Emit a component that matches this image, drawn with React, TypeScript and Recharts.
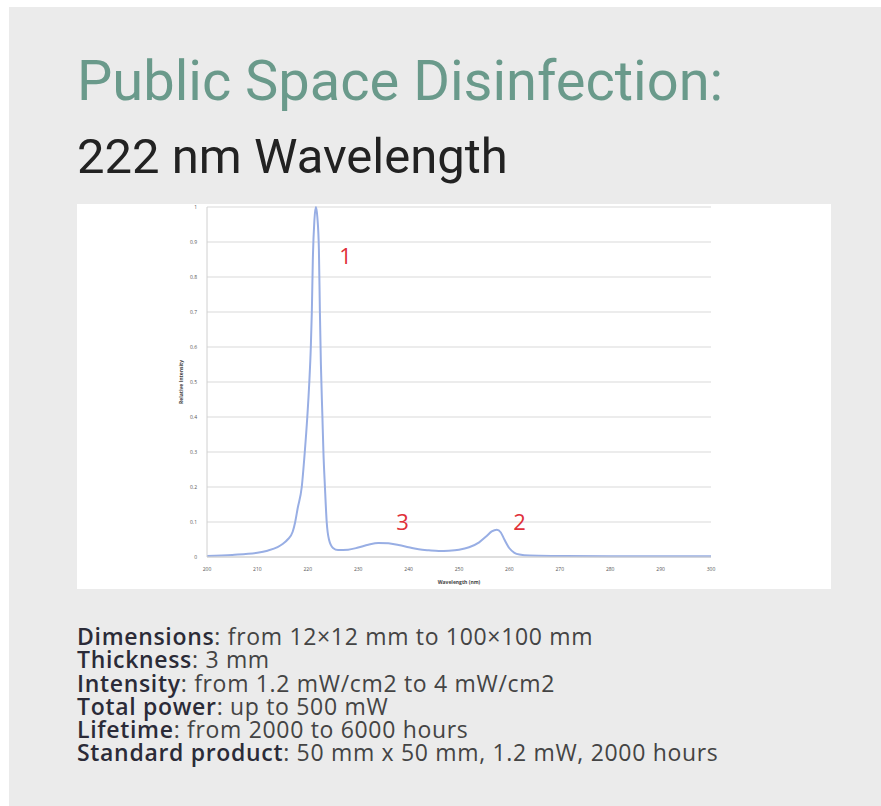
import React from 'react';
import {
  LineChart,
  Line,
  XAxis,
  YAxis,
  CartesianGrid,
  Label,
  ReferenceDot,
} from 'recharts';

// spectrum (wavelength nm -> relative intensity)
const wavelengths = [
  200, 205, 210, 212, 214, 215, 216, 217, 217.5, 218, 218.8, 219.4, 219.9, 220.3, 220.6,
  220.8, 221, 221.3, 221.6, 221.9, 222.2, 222.4, 222.6, 222.9, 223.1, 223.4, 223.75, 224.2,
  225, 226, 228, 230, 232, 234, 236, 238, 240, 242, 244, 246, 248, 250, 252, 254, 255.5,
  256.5, 257.5, 258.3, 259, 260, 261, 262, 264, 270, 280, 290, 300,
];
const intensity = [
  0.003, 0.006, 0.012, 0.018, 0.028, 0.037, 0.05, 0.072, 0.1, 0.14, 0.2, 0.3, 0.4, 0.5, 0.6,
  0.7, 0.85, 0.96, 1.0, 0.97, 0.88, 0.7, 0.55, 0.4, 0.3, 0.2, 0.1, 0.05,
  0.026, 0.02, 0.021, 0.027, 0.035, 0.04, 0.039, 0.034, 0.028, 0.022, 0.019, 0.017, 0.018,
  0.021, 0.028, 0.042, 0.06, 0.073, 0.078, 0.07, 0.05, 0.025, 0.012, 0.007, 0.004, 0.003,
  0.002, 0.002, 0.002,
];

const xTicks = [200, 210, 220, 230, 240, 250, 260, 270, 280, 290, 300];
const yTicks = [0, 0.1, 0.2, 0.3, 0.4, 0.5, 0.6, 0.7, 0.8, 0.9, 1];

// peak annotations: [label, x, y]
const peakLabels: [string, number, number][] = [
  ['1', 227.5, 0.86],
  ['3', 238.8, 0.1],
  ['2', 262, 0.1],
];

const specs: [string, string][] = [
  ['Dimensions', 'from 12×12 mm to 100×100 mm'],
  ['Thickness', '3 mm'],
  ['Intensity', 'from 1.2 mW/cm2 to 4 mW/cm2'],
  ['Total power', 'up to 500 mW'],
  ['Lifetime', 'from 2000 to 6000 hours'],
  ['Standard product', '50 mm x 50 mm, 1.2 mW, 2000 hours'],
];

const data = wavelengths.map((w, i) => ({ w, v: intensity[i] }));

const tickStyle = { fontSize: 5, fill: '#555', fontFamily: 'Open Sans' };

export default function App() {
  return (
    <div
      style={{
        position: 'absolute',
        left: 9,
        top: 7,
        width: 872,
        height: 799,
        background: '#ebebeb',
        fontFamily: 'Roboto',
      }}
    >
      <div
        style={{
          position: 'absolute',
          left: 68,
          top: 46,
          fontSize: 56,
          color: '#6a9a8b',
          whiteSpace: 'nowrap',
          lineHeight: 1,
        }}
      >
        Public Space Disinfection:
      </div>
      <div
        style={{
          position: 'absolute',
          left: 68,
          top: 125,
          fontSize: 49,
          color: '#222',
          whiteSpace: 'nowrap',
          lineHeight: 1,
        }}
      >
        222 nm Wavelength
      </div>
      <div style={{ position: 'absolute', left: 68, top: 197, background: '#fff' }}>
        <LineChart
          width={754}
          height={385}
          data={data}
          margin={{ top: 3, right: 120, bottom: 0, left: 100 }}
        >
          <CartesianGrid vertical={false} stroke="#d9d9d9" />
          <XAxis
            dataKey="w"
            type="number"
            domain={[200, 300]}
            ticks={xTicks}
            tick={tickStyle}
            tickLine={false}
            axisLine={{ stroke: '#d0d0d0' }}
            height={32}
            tickMargin={4}
          >
            <Label
              value="Wavelength (nm)"
              position="insideBottom"
              offset={5}
              style={{ fontSize: 5, fontWeight: 700, fill: '#444', fontFamily: 'Open Sans' }}
            />
          </XAxis>
          <YAxis
            type="number"
            domain={[0, 1]}
            ticks={yTicks}
            tick={tickStyle}
            tickLine={false}
            axisLine={{ stroke: '#d0d0d0' }}
            width={30}
            tickMargin={4}
          >
            <Label
              value="Relative Intensity"
              angle={-90}
              position="insideLeft"
              offset={4}
              style={{
                fontSize: 5,
                fontWeight: 700,
                fill: '#444',
                fontFamily: 'Open Sans',
                textAnchor: 'middle',
              }}
            />
          </YAxis>
          <Line
            type="monotone"
            dataKey="v"
            stroke="#98aee4"
            strokeWidth={2}
            dot={false}
            isAnimationActive={false}
          />
          {peakLabels.map(([t, x, y]) => (
            <ReferenceDot
              key={t}
              x={x}
              y={y}
              r={0}
              fill="none"
              stroke="none"
              label={{
                value: t,
                position: 'center',
                fill: '#e0303a',
                fontSize: 22,
                fontFamily: 'Open Sans',
              }}
            />
          ))}
        </LineChart>
      </div>
      <div
        style={{
          position: 'absolute',
          left: 68,
          top: 618,
          fontFamily: 'Open Sans',
          fontSize: 23,
          lineHeight: '23.3px',
          color: '#444',
          letterSpacing: 0.68,
        }}
      >
        {specs.map(([k, v]) => (
          <div key={k} style={{ whiteSpace: 'nowrap' }}>
            <span style={{ fontWeight: 600, color: '#2b2b38' }}>{k}</span>: {v}
          </div>
        ))}
      </div>
    </div>
  );
}
